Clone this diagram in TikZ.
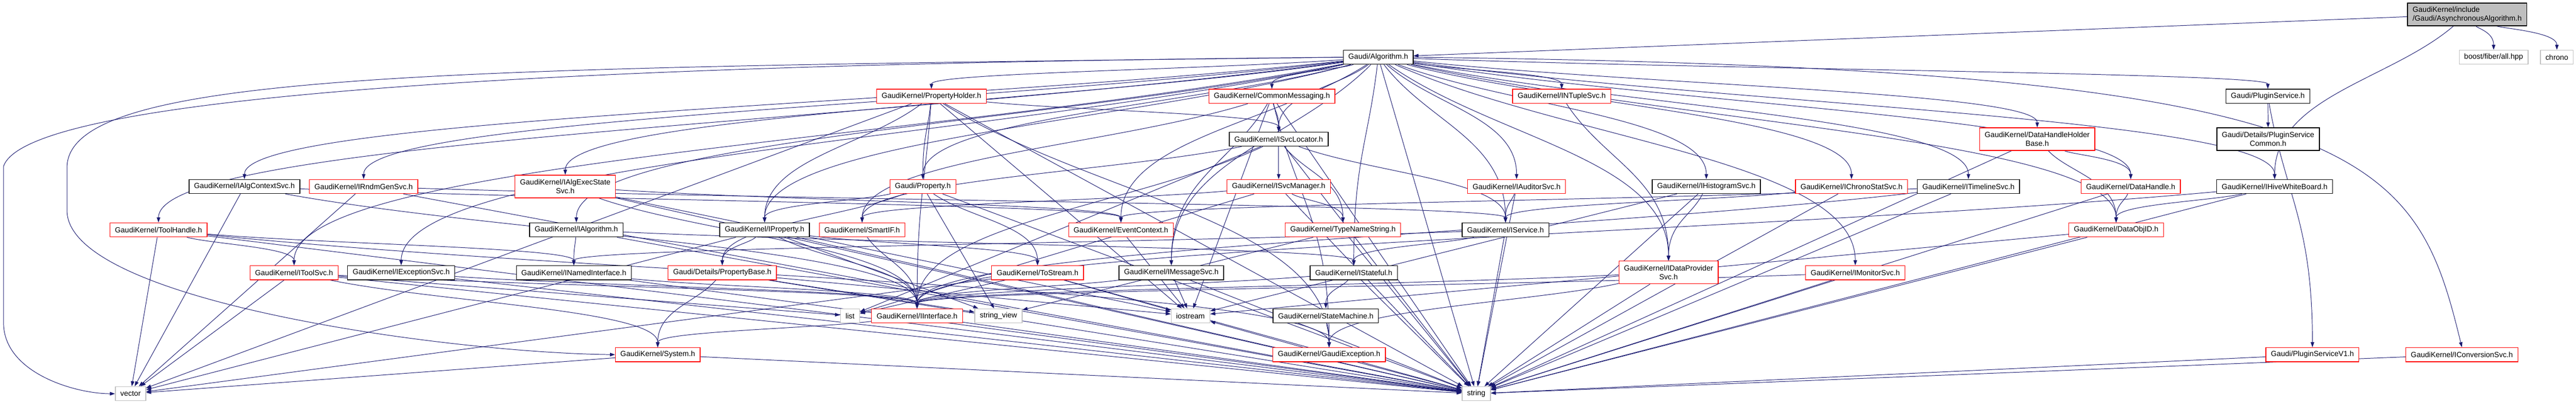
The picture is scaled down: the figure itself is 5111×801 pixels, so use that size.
\documentclass[tikz,border=0pt]{standalone}
\usepackage{fontspec}
\newfontfamily\gkfont{Liberation Sans}
\usetikzlibrary{arrows.meta,backgrounds,calc}

\definecolor{edgeblue}{HTML}{191970}
\definecolor{sysgray}{HTML}{BFBFBF}
\definecolor{truncred}{HTML}{FF0000}

\tikzset{
  hdr/.style={draw=black, fill=white, line width=0.7pt, inner xsep=5pt, inner ysep=2pt,
    minimum height=14pt, font=\gkfont\fontsize{7.4}{8.8}\selectfont},
  trunc/.style={hdr, draw=truncred},
  sys/.style={hdr, draw=sysgray},
  twoline/.style={align=center, minimum height=22.5pt},
  dep/.style={-{Triangle[length=5pt,width=3.5pt]}, draw=edgeblue, line width=0.5pt},
}
% include edge that drops into the top of the included file
\newcommand{\incl}[2]{\draw[dep] (#1) .. controls ($(#1)!0.4!(#2.north)$) and ($(#2.north)!0.5!(#2.north |- #1)$) .. (#2.north);}

\begin{document}
\begin{tikzpicture}[x=0.5pt, y=-0.5pt]
\useasboundingbox (0,0) rectangle (5111,801);

% top rows
\node[hdr, fill=sysgray, align=left, minimum height=22.5pt] (root) at (4895,28.5) {GaudiKernel/include\\/Gaudi/AsynchronousAlgorithm.h};
\node[hdr] (algo) at (2734.5,113.5) {Gaudi/Algorithm.h};
\node[sys] (boost) at (4947.5,113.5) {boost/fiber/all.hpp};
\node[sys] (chrono) at (5073,113.5) {chrono};

\node[trunc] (propholder) at (1848,191) {GaudiKernel/PropertyHolder.h};
\node[trunc] (commsg) at (2523.5,191) {GaudiKernel/CommonMessaging.h};
\node[trunc] (ntuple) at (3098.5,191) {GaudiKernel/INTupleSvc.h};
\node[hdr] (pluginsvc) at (4499.5,191) {Gaudi/PluginService.h};

\node[hdr] (svcloc) at (2537,276) {GaudiKernel/ISvcLocator.h};
\node[trunc, twoline] (dhholder) at (4042,276) {GaudiKernel/DataHandleHolder\\Base.h};
\node[hdr, twoline] (plugcommon) at (4500,276) {Gaudi/Details/PluginService\\Common.h};

% middle rows
\node[hdr] (algctx) at (485,370) {GaudiKernel/IAlgContextSvc.h};
\node[trunc] (rndmgen) at (721.5,370) {GaudiKernel/IRndmGenSvc.h};
\node[trunc, twoline] (execstate) at (1121.5,370) {GaudiKernel/IAlgExecState\\Svc.h};
\node[trunc] (property) at (1831,370) {Gaudi/Property.h};
\node[trunc] (svcmgr) at (2537,370) {GaudiKernel/ISvcManager.h};
\node[trunc] (auditor) at (3009,370) {GaudiKernel/IAuditorSvc.h};
\node[hdr] (histo) at (3385.5,370) {GaudiKernel/IHistogramSvc.h};
\node[trunc] (chronostat) at (3673.5,370) {GaudiKernel/IChronoStatSvc.h};
\node[hdr] (timeline) at (3905.5,370) {GaudiKernel/ITimelineSvc.h};
\node[trunc] (datahandle) at (4227.5,370) {GaudiKernel/DataHandle.h};
\node[hdr] (hivewb) at (4513,370) {GaudiKernel/IHiveWhiteBoard.h};

\node[trunc] (toolhandle) at (314.5,456) {GaudiKernel/ToolHandle.h};
\node[hdr] (ialgo) at (1143.5,456) {GaudiKernel/IAlgorithm.h};
\node[hdr] (iprop) at (1517,456) {GaudiKernel/IProperty.h};
\node[trunc] (smartif) at (1710.5,456) {GaudiKernel/SmartIF.h};
\node[trunc] (evtctx) at (2224,456) {GaudiKernel/EventContext.h};
\node[trunc] (typename) at (2664.5,456) {GaudiKernel/TypeNameString.h};
\node[hdr] (iservice) at (2987,456) {GaudiKernel/IService.h};
\node[trunc] (dataobjid) at (4198.5,456) {GaudiKernel/DataObjID.h};

\node[trunc] (toolsvc) at (583.5,541) {GaudiKernel/IToolSvc.h};
\node[hdr] (excsvc) at (796,541) {GaudiKernel/IExceptionSvc.h};
\node[hdr] (namedif) at (1138.5,541) {GaudiKernel/INamedInterface.h};
\node[trunc] (propbase) at (1433,541) {Gaudi/Details/PropertyBase.h};
\node[trunc] (tostream) at (2058.5,541) {GaudiKernel/ToStream.h};
\node[hdr] (msgsvc) at (2324,541) {GaudiKernel/IMessageSvc.h};
\node[hdr] (stateful) at (2686,541) {GaudiKernel/IStateful.h};
\node[trunc, twoline] (dataprov) at (3310.5,540.5) {GaudiKernel/IDataProvider\\Svc.h};
\node[trunc] (monitor) at (3681,541) {GaudiKernel/IMonitorSvc.h};

% bottom rows
\node[sys] (list) at (1686.5,626.5) {list};
\node[trunc] (iface) at (1819.5,626.5) {GaudiKernel/IInterface.h};
\node[sys] (strview) at (1981,626.5) {string\_view};
\node[sys] (iostream) at (2362,626.5) {iostream};
\node[hdr] (statemach) at (2630.5,626.5) {GaudiKernel/StateMachine.h};

\node[trunc] (system) at (1305,703.5) {GaudiKernel/System.h};
\node[trunc] (gexcept) at (2637,703.5) {GaudiKernel/GaudiException.h};
\node[trunc] (pluginvone) at (4588,703.5) {Gaudi/PluginServiceV1.h};
\node[trunc] (convsvc) at (4884.5,703.5) {GaudiKernel/IConversionSvc.h};

\node[sys] (vector) at (259,781) {vector};
\node[sys] (string) at (2929,781) {string};

\begin{pgfonlayer}{background}
\draw[dep] (root) -- (algo);
\foreach \t in {hivewb,boost,chrono}
  {\incl{root}{\t}}
\foreach \t in {propholder,commsg,ntuple,pluginsvc,svcloc,dhholder,algctx,rndmgen,execstate,
    property,auditor,histo,chronostat,timeline,datahandle,hivewb,toolhandle,ialgo,iprop,
    evtctx,iservice,dataobjid,toolsvc,excsvc,msgsvc,stateful,dataprov,monitor}
  {\incl{algo}{\t}}
\draw[dep] (algo) -- (string);
% long ones round the sides
\draw[dep] (algo.west) .. controls (1400,125) and (60,170) .. (7,330) -- (7,640)
  .. controls (7,740) and (150,781) .. (vector.west);
\draw[dep] (algo.west) .. controls (900,135) and (140,140) .. (133,330) -- (133,420)
  .. controls (140,600) and (900,700) .. (system.west);
\draw[dep] (algo.east) .. controls (4700,135) and (4790,300) .. (convsvc.north);

\foreach \t in {property,iprop,svcloc,gexcept,iface}
  {\incl{propholder}{\t}}
\foreach \t in {svcloc,msgsvc,smartif,gexcept}
  {\incl{commsg}{\t}}
\incl{ntuple}{dataprov}
\foreach \t in {plugcommon,pluginvone}
  {\incl{pluginsvc}{\t}}
\foreach \t in {svcmgr,smartif,typename,iface,iservice}
  {\incl{svcloc}{\t}}
\foreach \t in {datahandle,dataobjid}
  {\incl{dhholder}{\t}}
\foreach \t in {iface,evtctx}
  {\incl{algctx}{\t}}
\incl{rndmgen}{iservice}
\foreach \t in {iface,evtctx}
  {\incl{execstate}{\t}}
\foreach \t in {propbase,iprop,tostream}
  {\incl{property}{\t}}
\foreach \t in {smartif,typename}
  {\incl{svcmgr}{\t}}
\incl{auditor}{iservice}
\incl{histo}{dataprov}
\incl{chronostat}{iservice}
\foreach \t in {iface,evtctx}
  {\incl{timeline}{\t}}
\incl{datahandle}{dataobjid}
\foreach \t in {dataobjid,iface}
  {\incl{hivewb}{\t}}
\foreach \t in {toolsvc,namedif,gexcept}
  {\incl{toolhandle}{\t}}
\foreach \t in {namedif,stateful}
  {\incl{ialgo}{\t}}
\foreach \t in {propbase,iface,tostream}
  {\incl{iprop}{\t}}
\incl{smartif}{iface}
\foreach \t in {namedif,stateful}
  {\incl{iservice}{\t}}
\foreach \t in {iface,system}
  {\incl{toolsvc}{\t}}
\incl{excsvc}{iface}
\incl{namedif}{iface}
\incl{propbase}{system}
\foreach \t in {statemach,iface}
  {\incl{stateful}{\t}}
\foreach \t in {iface,gexcept}
  {\incl{dataprov}{\t}}
\incl{monitor}{iface}
\incl{msgsvc}{iface}
\incl{iface}{system}
\incl{statemach}{gexcept}

% system headers, reached from the side
\foreach \s/\t in {propholder/iostream,propholder/string,propholder/vector,
    commsg/string,commsg/iostream,svcloc/list,svcloc/string,dhholder/string,
    algctx/vector,rndmgen/string,rndmgen/vector,execstate/string,execstate/iostream,
    property/strview,property/string,svcmgr/list,svcmgr/string,auditor/string,
    histo/string,histo/iostream,chronostat/string,timeline/string,datahandle/string,
    hivewb/string,toolhandle/string,toolhandle/vector,ialgo/string,iprop/string,
    iprop/vector,iprop/strview,evtctx/iostream,typename/string,typename/strview,
    iservice/string,dataobjid/string,dataobjid/iostream,toolsvc/list,toolsvc/string,
    toolsvc/vector,excsvc/string,namedif/string,propbase/strview,propbase/iostream,
    propbase/string,tostream/list,tostream/iostream,tostream/string,tostream/vector,
    msgsvc/iostream,msgsvc/string,stateful/string,dataprov/string,monitor/string,
    iface/string,system/string,system/vector,gexcept/string,gexcept/iostream,
    pluginvone/string,convsvc/string}
  \draw[dep] (\s) -- (\t);
\end{pgfonlayer}

\end{tikzpicture}
\end{document}
